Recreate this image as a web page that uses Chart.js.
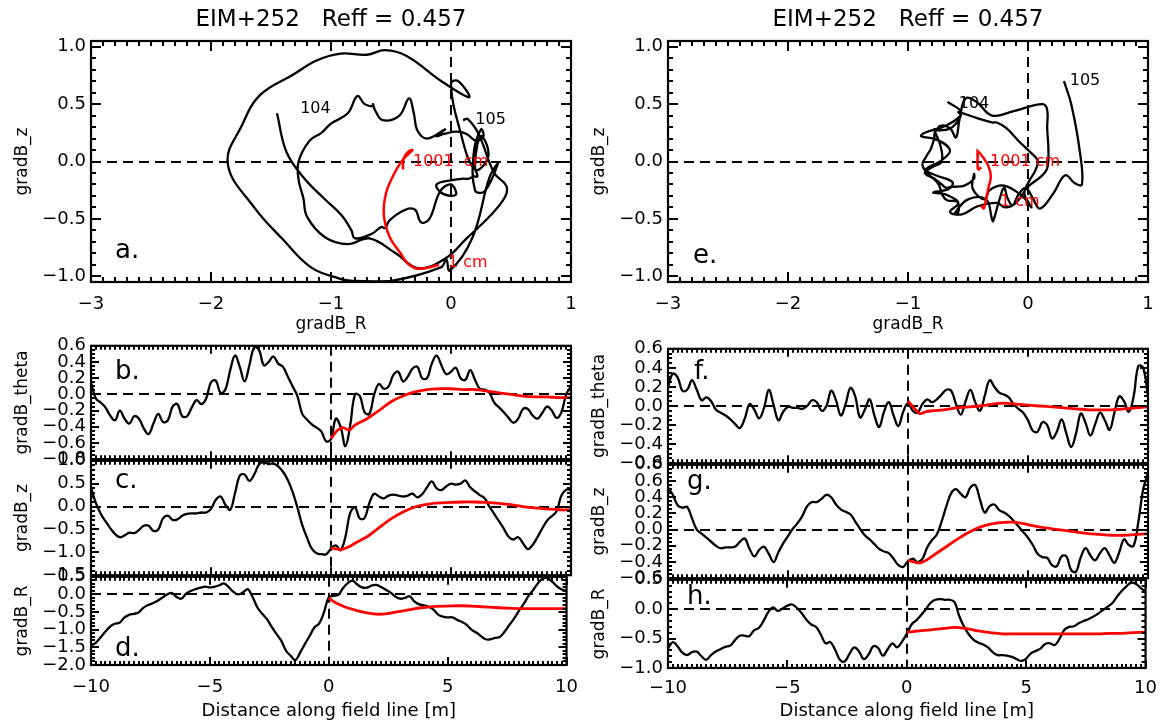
<!DOCTYPE html>
<html>
<head>
<meta charset="utf-8">
<script src="https://cdn.jsdelivr.net/npm/chart.js@4.4.1/dist/chart.umd.min.js"></script>
<style>
html, body { margin: 0; padding: 0; background: #fff; }
#wrap { position: relative; width: 1167px; height: 724px; overflow: hidden; background: #fff; }
#wrap canvas { position: absolute; }
</style>
</head>
<body>
<div id="wrap"></div>
<script>
// distance along field line [m], shared by the black curves
const distance = [-10,-9.8,-9.6,-9.4,-9.2,-9,-8.8,-8.6,-8.4,-8.2,-8,-7.8,-7.6,-7.4,-7.2,-7,-6.8,-6.6,-6.4,-6.2,-6,
  -5.8,-5.6,-5.4,-5.2,-5,-4.8,-4.6,-4.4,-4.2,-4,-3.8,-3.6,-3.4,-3.2,-3,-2.8,-2.6,-2.4,-2.2,-2,
  -1.8,-1.6,-1.4,-1.2,-1,-0.8,-0.6,-0.4,-0.2,0,0.2,0.4,0.6,0.8,1,1.2,1.4,1.6,1.8,2,
  2.2,2.4,2.6,2.8,3,3.2,3.4,3.6,3.8,4,4.2,4.4,4.6,4.8,5,5.2,5.4,5.6,5.8,6,
  6.2,6.4,6.6,6.8,7,7.2,7.4,7.6,7.8,8,8.2,8.4,8.6,8.8,9,9.2,9.4,9.6,9.8,10];

// left column (b, c, d)
const thetaLeft = [0.15,-0.05,-0.1,-0.16,-0.26,-0.32,-0.2,-0.3,-0.36,-0.27,-0.3,
  -0.42,-0.49,-0.36,-0.24,-0.34,-0.32,-0.15,-0.12,-0.27,-0.27,
  -0.16,-0.07,-0.12,-0.05,0.15,0.17,0.02,0.06,0.3,0.48,
  0.34,0.16,0.36,0.58,0.55,0.36,0.4,0.47,0.38,0.34,
  0.22,0.1,-0.02,-0.24,-0.31,-0.37,-0.41,-0.46,-0.58,-0.55,
  -0.3,-0.4,-0.64,-0.38,0.0,-0.02,-0.22,-0.24,0.0,0.13,
  0.07,0.1,0.24,0.28,0.16,0.22,0.32,0.34,0.2,0.2,
  0.38,0.48,0.36,0.25,0.28,0.33,0.2,0.18,0.3,0.18,
  0.07,0.06,0.02,-0.1,-0.16,-0.22,-0.29,-0.35,-0.3,-0.18,
  -0.18,-0.26,-0.3,-0.23,-0.15,-0.2,-0.29,-0.22,0.0,0.1];
const zLeft = [0.42,0.08,-0.15,-0.32,-0.47,-0.6,-0.67,-0.63,-0.57,-0.58,-0.51,
  -0.42,-0.42,-0.53,-0.5,-0.26,-0.2,-0.29,-0.28,-0.2,-0.16,
  -0.15,-0.15,-0.13,-0.13,-0.05,0.15,0.22,0.04,-0.07,0.29,
  0.68,0.7,0.56,0.7,0.92,0.97,0.93,0.94,0.88,0.76,
  0.58,0.32,-0.02,-0.4,-0.68,-0.92,-1.02,-1.04,-1.04,-0.92,
  -0.85,-0.95,-0.66,-0.14,-0.02,-0.26,-0.25,0.08,0.28,0.22,
  0.18,0.24,0.26,0.24,0.22,0.24,0.28,0.2,0.27,0.42,
  0.55,0.4,0.36,0.44,0.5,0.48,0.5,0.57,0.42,0.33,
  0.25,0.18,0.0,-0.16,-0.32,-0.48,-0.66,-0.72,-0.67,-0.8,
  -0.93,-0.84,-0.67,-0.48,-0.31,-0.21,-0.1,0.24,0.37,0.36];
const rLeft = [-1.45,-1.37,-1.22,-1.06,-0.91,-0.83,-0.8,-0.66,-0.58,-0.55,-0.51,
  -0.38,-0.3,-0.25,-0.18,-0.09,0.0,0.04,-0.07,-0.12,0.02,
  0.1,0.15,0.19,0.22,0.2,0.22,0.26,0.31,0.2,0.07,
  0.0,0.06,0.15,-0.08,-0.37,-0.55,-0.7,-0.92,-1.12,-1.31,
  -1.59,-1.74,-1.86,-1.64,-1.4,-1.17,-0.93,-0.82,-0.5,-0.08,
  -0.04,-0.01,0.18,0.32,0.39,0.28,0.2,0.19,0.25,0.27,
  0.21,0.13,0.05,-0.06,-0.12,-0.1,-0.05,-0.2,-0.28,-0.31,
  -0.35,-0.43,-0.57,-0.63,-0.65,-0.65,-0.72,-0.78,-0.86,-1.0,
  -1.08,-1.18,-1.27,-1.27,-1.23,-1.2,-1.05,-0.86,-0.68,-0.46,
  -0.27,-0.04,0.13,0.32,0.45,0.46,0.36,0.23,0.14,0.1];

// right column (f, g, h)
const thetaRight = [0.2,0.34,0.3,0.16,0.17,0.27,0.17,0.06,0.09,0.05,-0.04,
  -0.07,-0.1,-0.14,-0.19,-0.23,-0.13,0.02,-0.04,-0.13,-0.02,
  0.17,0.01,-0.15,-0.06,-0.01,-0.02,-0.02,-0.03,0.0,0.06,
  0.04,-0.05,0.0,0.16,0.06,-0.1,0.02,0.19,0.1,-0.12,
  -0.04,0.07,-0.1,-0.22,-0.06,0.04,-0.1,-0.21,-0.06,0.03,
  -0.05,-0.07,0.02,0.07,0.04,0.07,0.12,0.17,0.16,0.02,
  -0.09,0.05,0.17,0.04,-0.05,0.11,0.27,0.2,0.14,0.12,
  0.09,0.02,-0.03,-0.07,-0.15,-0.26,-0.27,-0.17,-0.2,-0.34,
  -0.27,-0.14,-0.29,-0.43,-0.29,-0.08,-0.18,-0.31,-0.19,-0.07,
  -0.15,-0.25,-0.07,0.1,0.05,-0.06,0.1,0.42,0.4,0.1];
const zRight = [0.52,0.43,0.3,0.27,0.28,0.14,0.0,-0.05,-0.1,-0.15,-0.2,
  -0.23,-0.22,-0.22,-0.21,-0.15,-0.11,-0.24,-0.33,-0.25,-0.21,
  -0.3,-0.4,-0.28,-0.17,-0.08,0.01,0.08,0.17,0.29,0.34,
  0.34,0.38,0.43,0.4,0.31,0.25,0.22,0.19,0.1,0.01,
  -0.07,-0.12,-0.18,-0.24,-0.27,-0.29,-0.36,-0.44,-0.46,-0.39,
  -0.36,-0.4,-0.36,-0.22,-0.13,-0.06,0.1,0.29,0.45,0.5,
  0.44,0.4,0.52,0.55,0.37,0.21,0.29,0.31,0.24,0.21,
  0.17,0.11,0.04,-0.03,-0.1,-0.19,-0.3,-0.34,-0.35,-0.44,
  -0.45,-0.33,-0.33,-0.5,-0.52,-0.34,-0.23,-0.32,-0.38,-0.29,
  -0.23,-0.32,-0.41,-0.28,-0.12,-0.19,-0.2,0.1,0.5,0.7];
const rRight = [-0.67,-0.56,-0.63,-0.74,-0.78,-0.73,-0.72,-0.8,-0.86,-0.78,-0.72,
  -0.68,-0.64,-0.62,-0.53,-0.45,-0.45,-0.46,-0.36,-0.32,-0.2,
  -0.05,0.03,-0.03,0.01,0.06,0.08,0.02,-0.07,-0.18,-0.26,
  -0.3,-0.43,-0.58,-0.56,-0.69,-0.86,-0.89,-0.76,-0.65,-0.72,
  -0.85,-0.77,-0.63,-0.66,-0.79,-0.68,-0.58,-0.65,-0.55,-0.42,
  -0.26,-0.19,-0.1,0.0,0.11,0.16,0.17,0.16,0.16,0.12,
  -0.12,-0.3,-0.43,-0.52,-0.57,-0.6,-0.65,-0.73,-0.78,-0.78,
  -0.79,-0.81,-0.85,-0.88,-0.84,-0.75,-0.71,-0.67,-0.59,-0.58,
  -0.61,-0.5,-0.35,-0.3,-0.29,-0.24,-0.2,-0.17,-0.13,-0.08,
  -0.02,0.04,0.1,0.21,0.31,0.39,0.45,0.43,0.36,0.3];

// red curves, 1 cm .. 1001 cm
const redDistance = [0,0.25,0.5,0.75,1,1.5,2,2.5,3,3.5,4,4.5,5,5.5,6,6.5,7,7.5,8,8.5,9,9.5,10];
const redThetaLeft = [-0.55,-0.45,-0.41,-0.44,-0.38,-0.3,-0.2,-0.09,-0.02,0.03,0.06,0.07,0.07,0.06,0.06,0.04,0.02,0.0,-0.02,-0.03,-0.03,-0.04,-0.04];
const redZLeft = [-0.9,-0.93,-0.93,-0.88,-0.8,-0.66,-0.46,-0.27,-0.12,-0.01,0.05,0.08,0.09,0.1,0.1,0.09,0.07,0.04,0.0,-0.03,-0.05,-0.07,-0.07];
const redRLeft = [-0.1,-0.22,-0.3,-0.37,-0.42,-0.51,-0.56,-0.54,-0.48,-0.42,-0.37,-0.34,-0.33,-0.32,-0.33,-0.35,-0.37,-0.39,-0.4,-0.4,-0.4,-0.4,-0.4];
const redThetaRight = [0.05,-0.02,-0.08,-0.06,-0.05,-0.04,-0.02,-0.01,0.0,0.02,0.03,0.02,0.01,0.0,-0.01,-0.02,-0.03,-0.04,-0.04,-0.04,-0.03,-0.02,-0.01];
const redZRight = [-0.38,-0.4,-0.41,-0.38,-0.33,-0.23,-0.13,-0.04,0.03,0.07,0.09,0.09,0.06,0.03,0.01,-0.01,-0.03,-0.05,-0.06,-0.07,-0.07,-0.06,-0.05];
const redRRight = [-0.39,-0.38,-0.37,-0.36,-0.35,-0.33,-0.31,-0.33,-0.37,-0.4,-0.42,-0.42,-0.42,-0.42,-0.42,-0.42,-0.42,-0.42,-0.42,-0.41,-0.41,-0.4,-0.39];

// tick labels
const gradRTicks = [-3, -2, -1, 0, 1];
const gradZTicks = [-1.0, -0.5, 0.0, 0.5, 1.0];
const distTicks = [-10, -5, 0, 5, 10];
const thetaTicksLeft = [-0.8, -0.6, -0.4, -0.2, 0.0, 0.2, 0.4, 0.6];
const zTicksLeft = [-1.5, -1.0, -0.5, 0.0, 0.5, 1.0];
const rTicksLeft = [-2.0, -1.5, -1.0, -0.5, 0.0, 0.5];
const thetaTicksRight = [-0.6, -0.4, -0.2, 0.0, 0.2, 0.4, 0.6];
const zTicksRight = [-0.6, -0.4, -0.2, 0.0, 0.2, 0.4, 0.6, 0.8];
const rTicksRight = [-1.0, -0.5, 0.0, 0.5];

const FONT = 'DejaVu Sans';
const RED = 'rgb(255,0,0)';
const wrap = document.getElementById('wrap');

const fmt = d => v => (v < 0 ? '\u2212' : '') + Math.abs(v).toFixed(d);
const pts = (xs, ys) => xs.map((v, i) => ({ x: v, y: ys[i] }));
const line = (data, color, w) => ({ data, borderColor: color, borderWidth: w, pointRadius: 0, showLine: true, tension: 0.4, fill: false });

function steps(min, max, step) {
  const out = [];
  for (let k = Math.ceil(min / step - 1e-6); k * step <= max + 1e-6; k++) out.push(k * step);
  return out;
}

function frame(p) {
  return {
    id: 'idlFrame',
    beforeDatasetsDraw(chart) {
      const { ctx, chartArea: a, scales: { x, y } } = chart;
      ctx.save();
      ctx.beginPath(); ctx.rect(a.left, a.top, a.width, a.height); ctx.clip();
      ctx.strokeStyle = '#000'; ctx.lineWidth = 2; ctx.setLineDash([10, 6]);
      const x0 = Math.round(x.getPixelForValue(0)), y0 = Math.round(y.getPixelForValue(0));
      ctx.beginPath();
      ctx.moveTo(a.left, y0); ctx.lineTo(a.right, y0);
      ctx.moveTo(x0, a.top); ctx.lineTo(x0, a.bottom);
      ctx.stroke();
      ctx.restore();
    },
    afterDatasetsDraw(chart) {
      const { ctx, chartArea: a, scales: { x, y } } = chart;
      ctx.save();
      ctx.font = '16px "' + FONT + '"';
      ctx.textBaseline = 'middle';
      (p.notes || []).forEach(n => {
        ctx.fillStyle = n.color; ctx.textAlign = n.align;
        ctx.fillText(n.text, x.getPixelForValue(n.x), y.getPixelForValue(n.y));
      });
      ctx.font = '26px "' + FONT + '"';
      ctx.fillStyle = '#000'; ctx.textAlign = 'left'; ctx.textBaseline = 'alphabetic';
      ctx.fillText(p.letter, a.left + p.letterAt[0], a.top + p.letterAt[1]);

      ctx.strokeStyle = '#000'; ctx.lineWidth = 2;
      ctx.beginPath();
      const xt = (vals, len) => vals.forEach(v => {
        const px = Math.round(x.getPixelForValue(v));
        ctx.moveTo(px, a.bottom); ctx.lineTo(px, a.bottom - len);
        ctx.moveTo(px, a.top); ctx.lineTo(px, a.top + len);
      });
      const yt = (vals, len) => vals.forEach(v => {
        const py = Math.round(y.getPixelForValue(v));
        ctx.moveTo(a.left, py); ctx.lineTo(a.left + len, py);
        ctx.moveTo(a.right, py); ctx.lineTo(a.right - len, py);
      });
      xt(steps(x.min, x.max, p.xMinor), p.minorLen);
      yt(steps(y.min, y.max, p.yMinor), p.minorLen);
      xt(p.xTicks, p.majorLen);
      yt(p.yTicks, p.majorLen);
      ctx.stroke();
      ctx.lineWidth = 2.2;
      ctx.strokeRect(a.left, a.top, a.width, a.height);
      ctx.restore();
    }
  };
}

function panel(p) {
  const c = document.createElement('canvas');
  const W = p.padL + p.box.w + p.padR, H = p.padT + p.box.h + p.padB;
  c.width = W; c.height = H;
  c.style.left = (p.box.x - p.padL) + 'px';
  c.style.top = (p.box.y - p.padT) + 'px';
  c.style.width = W + 'px'; c.style.height = H + 'px';
  wrap.appendChild(c);
  new Chart(c, {
    type: 'scatter',
    data: { datasets: p.datasets },
    options: {
      responsive: false, animation: false, devicePixelRatio: 1, events: [],
      layout: { padding: { left: 0, right: p.padR, top: p.title ? 0 : p.padT, bottom: 0 } },
      plugins: {
        legend: { display: false }, tooltip: { enabled: false },
        title: p.title ? {
          display: true, text: p.title, fullSize: false, color: '#000',
          font: { family: FONT, size: 23, weight: 'normal' },
          padding: { top: 6, bottom: p.padT - 6 - 27.6 }
        } : { display: false }
      },
      scales: {
        x: {
          type: 'linear', min: p.xRange[0], max: p.xRange[1],
          grid: { display: false, drawTicks: false }, border: { display: false },
          afterBuildTicks: s => { s.ticks = p.xTicks.map(v => ({ value: v })); },
          afterFit: s => { s.height = p.padB; },
          ticks: { display: !!p.xLabels, color: '#000', font: { family: FONT, size: 18 }, padding: p.xPad || 12,
                   maxRotation: 0, autoSkip: false, callback: fmt(0) },
          title: { display: !!p.xTitle, text: p.xTitle, color: '#000',
                   font: { family: FONT, size: p.xTitleSize || 17 }, padding: { top: 0, bottom: p.xTitlePad || 0 } }
        },
        y: {
          type: 'linear', min: p.yRange[0], max: p.yRange[1],
          grid: { display: false, drawTicks: false }, border: { display: false },
          afterBuildTicks: s => { s.ticks = p.yTicks.map(v => ({ value: v })); },
          afterFit: s => { s.width = p.padL; },
          ticks: { color: '#000', font: { family: FONT, size: 18 }, padding: 5, autoSkip: false, callback: fmt(1) },
          title: { display: true, text: p.yTitle, color: '#000',
                   font: { family: FONT, size: 17 }, padding: { top: 12, bottom: 0 } }
        }
      }
    },
    plugins: [frame(p)]
  });
}

const TITLE = 'EIM+252   Reff = 0.457';

// a. and e. : gradB_z against gradB_R along the field line
[
  { left: 91, r: rLeft, z: zLeft, rr: redRLeft, rz: redZLeft, letter: 'a.', letterAt: [24, 217],
    notes: [
      { text: '104', x: -1.13, y: 0.46, color: '#000', align: 'center' },
      { text: '105', x: 0.33, y: 0.36, color: '#000', align: 'center' },
      { text: '1001  cm', x: -0.317, y: 0.0, color: RED, align: 'left' },
      { text: '1 cm', x: -0.025, y: -0.886, color: RED, align: 'left' }
    ] },
  { left: 668, r: rRight, z: zRight, rr: redRRight, rz: redZRight, letter: 'e.', letterAt: [25, 222],
    notes: [
      { text: '104', x: -0.45, y: 0.5, color: '#000', align: 'center' },
      { text: '105', x: 0.475, y: 0.7, color: '#000', align: 'center' },
      { text: '1001 cm', x: -0.317, y: 0.0, color: RED, align: 'left' },
      { text: '1 cm', x: -0.233, y: -0.35, color: RED, align: 'left' }
    ] }
].forEach(t => panel({
  box: { x: t.left, y: 41, w: 480, h: 241 }, padL: 91, padT: 41, padR: 19, padB: 64,
  title: TITLE, xRange: [-3, 1], yRange: [-1.05, 1.05], xTicks: gradRTicks, yTicks: gradZTicks,
  xMinor: 0.1, yMinor: 0.1, majorLen: 10, minorLen: 5,
  xLabels: true, xPad: 12, xTitle: 'gradB_R', xTitlePad: 10.8, yTitle: 'gradB_z',
  letter: t.letter, letterAt: t.letterAt, notes: t.notes,
  datasets: [line(pts(t.rr, t.rz), RED, 2.5), line(pts(t.r, t.z), '#000', 2.3)]
}));

// b.-d. and f.-h. : components against distance
const rows = [
  { left: 91, y: 345, h: 115, v: thetaLeft, red: redThetaLeft, range: [-0.8, 0.6], ticks: thetaTicksLeft, minor: 0.05, title: 'gradB_theta', letter: 'b.', at: [24, 33] },
  { left: 91, y: 460, h: 116, v: zLeft, red: redZLeft, range: [-1.5, 1.0], ticks: zTicksLeft, minor: 0.1, title: 'gradB_z', letter: 'c.', at: [24, 27] },
  { left: 91, y: 576, h: 89, v: rLeft, red: redRLeft, range: [-2.0, 0.5], ticks: rTicksLeft, minor: 0.1, title: 'gradB_R', letter: 'd.', at: [24, 79], bottom: true, padB: 58, tPad: 1.2, xPad: 12 },
  { left: 668, y: 348, h: 116, v: thetaRight, red: redThetaRight, range: [-0.6, 0.6], ticks: thetaTicksRight, minor: 0.05, title: 'gradB_theta', letter: 'f.', at: [26, 30] },
  { left: 668, y: 464, h: 115, v: zRight, red: redZRight, range: [-0.6, 0.8], ticks: zTicksRight, minor: 0.05, title: 'gradB_z', letter: 'g.', at: [19, 24] },
  { left: 668, y: 579, h: 89, v: rRight, red: redRRight, range: [-1.0, 0.5], ticks: rTicksRight, minor: 0.1, title: 'gradB_R', letter: 'h.', at: [19, 24], bottom: true, padB: 56, tPad: 2.2, xPad: 10 }
];
rows.forEach(r => panel({
  box: { x: r.left, y: r.y, w: 480, h: r.h }, padL: 91, padT: 15, padR: 19, padB: r.padB || 15,
  xRange: [-10, 10], yRange: r.range, xTicks: distTicks, yTicks: r.ticks,
  xMinor: 0.2, yMinor: r.minor, majorLen: 8, minorLen: 4,
  xLabels: !!r.bottom, xPad: r.xPad, xTitle: r.bottom ? 'Distance along field line [m]' : '', xTitleSize: 18, xTitlePad: r.tPad,
  yTitle: r.title, letter: r.letter, letterAt: r.at,
  datasets: [line(pts(redDistance, r.red), RED, 2.8), line(pts(distance, r.v), '#000', 2.3)]
}));
</script>
</body>
</html>
